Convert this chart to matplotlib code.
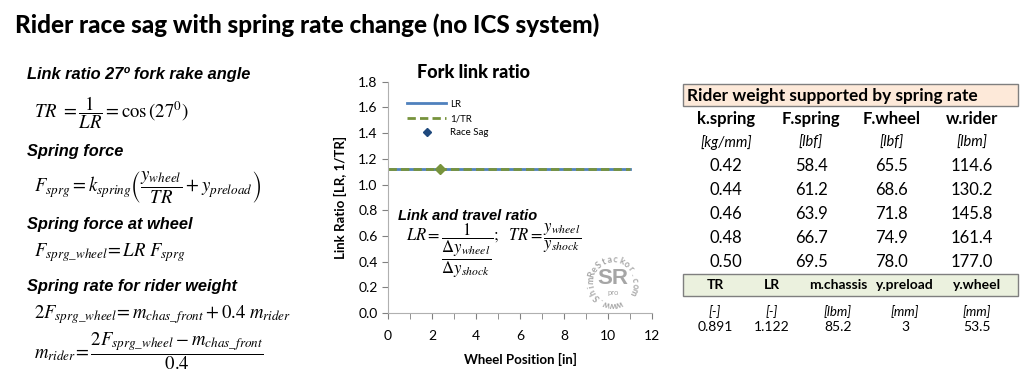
import numpy as np
import matplotlib
matplotlib.use("Agg")
import matplotlib.pyplot as plt
from matplotlib.patches import Rectangle
from matplotlib.lines import Line2D

plt.rcParams['mathtext.fontset'] = 'stix'
plt.rcParams['font.family'] = ['Lato', 'DejaVu Sans']

# chart data
wheel_pos = [0, 11]
lr_vals = [1.122, 1.122]
inv_tr_vals = [1.122, 1.122]
sag_x = [2.35]
sag_y = [1.122]

# table data
col_top = ['k.spring', 'F.spring', 'F.wheel', 'w.rider']
unit_top = ['[kg/mm]', '[lbf]', '[lbf]', '[lbm]']
k_spring = [0.42, 0.44, 0.46, 0.48, 0.50]
f_spring = [58.4, 61.2, 63.9, 66.7, 69.5]
f_wheel = [65.5, 68.6, 71.8, 74.9, 78.0]
w_rider = [114.6, 130.2, 145.8, 161.4, 177.0]
col_bot = ['TR', 'LR', 'm.chassis', 'y.preload', 'y.wheel']
unit_bot = ['[-]', '[-]', '[lbm]', '[mm]', '[mm]']
val_bot = ['0.891', '1.122', '85.2', '3', '53.5']

W, H = 1024, 383
fig = plt.figure(figsize=(W / 100, H / 100), dpi=100)


def fx(x):
    return x / W


def fy(y):
    return 1 - y / H


def ftext(x, y, s, **kw):
    kw.setdefault('va', 'center')
    fig.text(fx(x), fy(y), s, **kw)


# main title
ftext(15, 25, 'Rider race sag with spring rate change (no ICS system)',
      fontsize=17.5, fontweight='black', family='Lato')

# left column: equations
arial = 'Liberation Sans'
hdr = dict(fontsize=11.8, fontweight='bold', style='italic', family=arial)
ftext(27, 75, 'Link ratio 27º fork rake angle', **hdr)
ftext(34, 113, r'$TR\ =\dfrac{1}{LR}=\cos\left(27^0\right)$', fontsize=13.5)
ftext(27, 151, 'Spring force', **hdr)
ftext(34, 187, r'$F_{sprg}=k_{spring}\left(\dfrac{y_{wheel}}{TR}+y_{preload}\right)$', fontsize=13.5)
ftext(27, 224, 'Spring force at wheel', **hdr)
ftext(34, 253, r'$F_{sprg\_wheel}\!=LR\ F_{sprg}$', fontsize=13.5)
ftext(27, 286, 'Spring rate for rider weight', **hdr)
ftext(34, 315, r'$2F_{sprg\_wheel}\!=m_{chas\_front}+0.4\ m_{rider}$', fontsize=13.5)
ftext(34, 351, r'$m_{rider}\!=\dfrac{2F_{sprg\_wheel}-m_{chas\_front}}{0.4}$', fontsize=13.5)

# chart
ax = fig.add_axes([fx(388), fy(313), fx(652) - fx(388), fy(81.7) - fy(313)])
ax.plot(wheel_pos, lr_vals, color='#4F81BD', lw=2, label='LR')
ax.plot(wheel_pos, inv_tr_vals, color='#77933C', lw=2, ls=(0, (3, 1.5)), label='1/TR')
ax.plot(sag_x, sag_y, ls='none', marker='D', ms=5, color='#77933C', zorder=5)
ax.set_xlim(0, 12)
ax.set_ylim(0, 1.8)
ax.set_xticks(np.arange(0, 13, 2))
ax.set_xticks(np.arange(0, 13, 1), minor=True)
ax.set_yticks(np.arange(0, 1.81, 0.2))
ax.set_yticklabels([f'{v:.1f}' for v in np.arange(0, 1.81, 0.2)])
for s in ['top', 'right']:
    ax.spines[s].set_visible(False)
for s in ['left', 'bottom']:
    ax.spines[s].set_color('#B0B0B0')
ax.tick_params(axis='both', which='both', color='#808080', labelsize=10, direction='out')
ax.tick_params(axis='x', which='major', length=4, pad=8)
ax.tick_params(axis='x', which='minor', length=4)
ax.tick_params(axis='y', length=4)
ax.set_xlabel('Wheel Position [in]', fontsize=9.5, fontweight='bold', labelpad=8)
ax.set_ylabel('Link Ratio [LR, 1/TR]', fontsize=9.5, fontweight='bold', labelpad=8)

handles = [Line2D([], [], color='#4F81BD', lw=2),
           Line2D([], [], color='#77933C', lw=2, ls=(0, (3, 1.5))),
           Line2D([], [], ls='none', marker='D', ms=4, color='#1F497D')]
ax.legend(handles, ['LR', '1/TR', 'Race Sag'], loc='upper left',
          bbox_to_anchor=(0.04, 0.96), frameon=False, fontsize=7,
          handlelength=4, labelspacing=0.55, handletextpad=0.4)

ftext(417, 73, 'Fork link ratio', fontsize=13, fontweight='black', family='Lato')
ftext(398, 216, 'Link and travel ratio', fontsize=10.5, fontweight='bold', style='italic', family=arial)
ftext(406, 251, r'$LR=\dfrac{1}{\dfrac{\Delta y_{wheel}}{\Delta y_{shock}}};\ \ TR=\dfrac{y_{wheel}}{y_{shock}}$',
      fontsize=12)

# watermark
cx, cy, r = 613, 282, 22
wm = 'www.ShimReStackor.com'
for i, ch in enumerate(wm):
    th = np.deg2rad(-75 - i * 15.5)
    ftext(cx + r * np.cos(th), cy - r * np.sin(th), ch, fontsize=6.5, color='#A6A6A6',
          fontweight='bold', ha='center', rotation=np.rad2deg(th) - 90, rotation_mode='anchor')
ftext(cx, cy - 4, 'SR', fontsize=16, fontweight='bold', color='#A6A6A6', ha='center', family=arial)
ftext(cx, cy + 10, 'pro', fontsize=5.5, color='#A6A6A6', ha='center')

# table
fig.patches.append(Rectangle((fx(683), fy(106)), fx(1018) - fx(683), fy(84) - fy(106),
                             transform=fig.transFigure, facecolor='#FDE9D9', edgecolor='#7F7F7F', lw=1))
ftext(687, 96, 'Rider weight supported by spring rate', fontsize=12.4, fontweight='bold')
xs_top = [726, 811, 892, 972]
for x, c, u in zip(xs_top, col_top, unit_top):
    ftext(x, 119, c, fontsize=12, fontweight='bold', ha='center')
    ftext(x, 143, u, fontsize=10.5, style='italic', ha='center')
for i, (a, b, c, d) in enumerate(zip(k_spring, f_spring, f_wheel, w_rider)):
    y = 166 + i * 24
    for x, v in zip(xs_top, [f'{a:.2f}', f'{b:.1f}', f'{c:.1f}', f'{d:.1f}']):
        ftext(x, y, v, fontsize=12, ha='center')

fig.patches.append(Rectangle((fx(683), fy(296)), fx(1018) - fx(683), fy(274) - fy(296),
                             transform=fig.transFigure, facecolor='#EBF1DE', edgecolor='#7F7F7F', lw=1))
xs_bot = [715, 772, 838, 905, 977]
for x, c, u, v in zip(xs_bot, col_bot, unit_bot, val_bot):
    ftext(x, 285, c, fontsize=10, fontweight='bold', ha='center')
    ftext(x, 312, u, fontsize=9.5, style='italic', ha='center')
    ftext(x, 327, v, fontsize=10, ha='center')

fig.savefig('out.png', dpi=100)
